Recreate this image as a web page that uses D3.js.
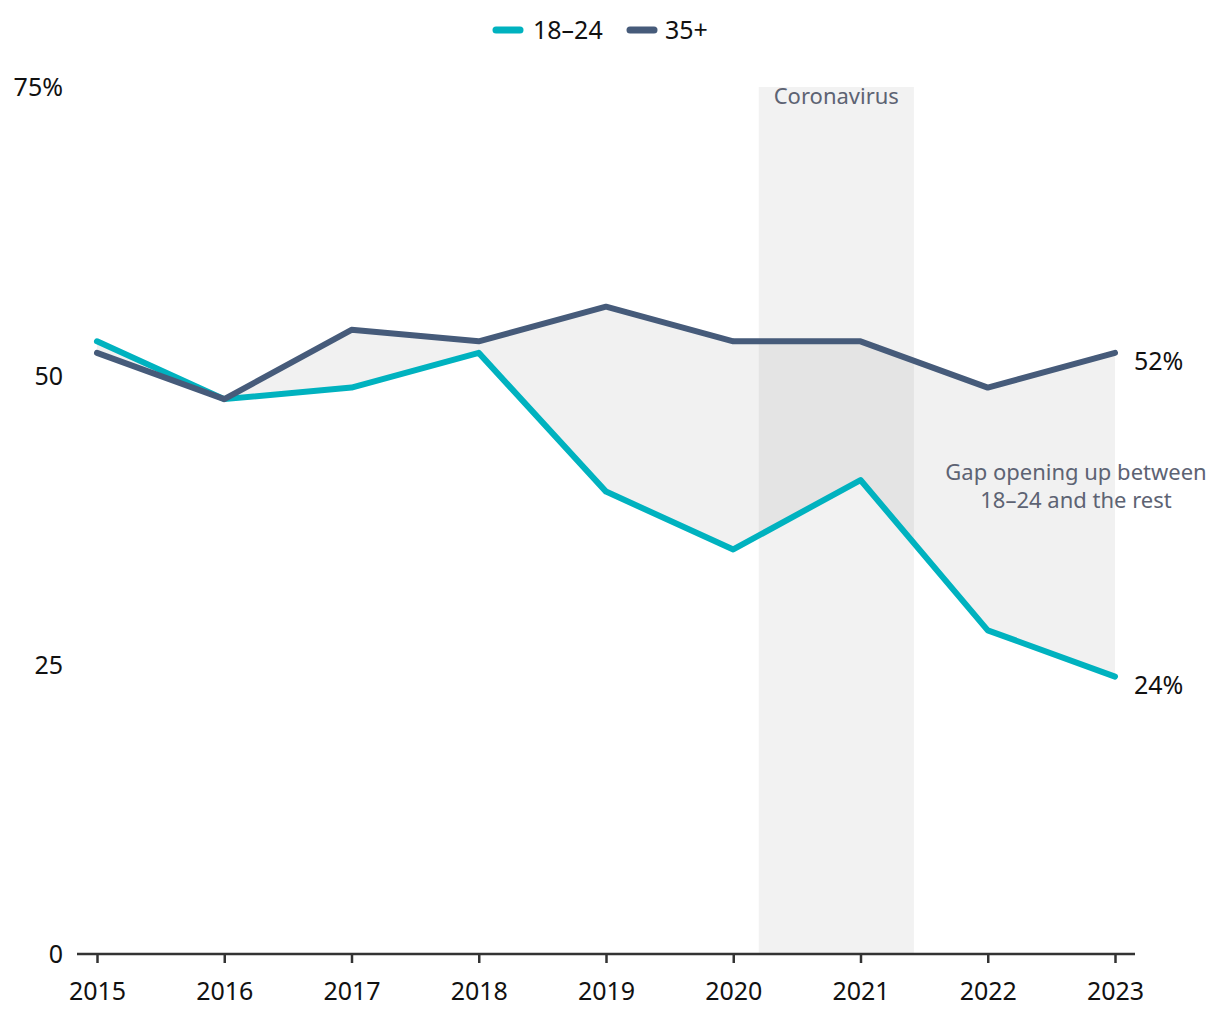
<!DOCTYPE html>
<html><head><meta charset="utf-8">
<script src="https://cdn.jsdelivr.net/npm/d3@7"></script>
<style>body{margin:0;background:#fff}svg{display:block;font-family:"Noto Sans",sans-serif}</style>
</head><body>
<svg id="c" width="1220" height="1020"></svg>
<script>
const years = [2015,2016,2017,2018,2019,2020,2021,2022,2023];
const young = [53,48,49,52,40,35,41,28,24];
const older = [52,48,54,53,56,53,53,49,52];
const seriesNames = ["18–24","35+"];
const seriesColors = ["#00b2bf","#465b7a"];
const yTicks = [0,25,50,75];
const covidStart = 2020.2, covidEnd = 2021.42;

const svg = d3.select("#c");
const x = d3.scaleLinear().domain([2015,2023]).range([97,1115]);
const y = d3.scaleLinear().domain([0,75]).range([954,87]);

// coronavirus band
svg.append("rect").attr("x",x(covidStart)).attr("y",y(75))
  .attr("width",x(covidEnd)-x(covidStart)).attr("height",y(0)-y(75))
  .attr("fill","#000").attr("fill-opacity",0.05);
svg.append("text").attr("x",(x(covidStart)+x(covidEnd))/2).attr("y",104)
  .attr("text-anchor","middle").attr("font-size",22).attr("fill","#5d6373").text("Coronavirus");

// gap area
const data = years.map((yr,i)=>({yr,a:young[i],b:older[i]}));
svg.append("path").datum(data)
  .attr("d",d3.area().x(d=>x(d.yr)).y0(d=>y(d.a)).y1(d=>y(d.b)))
  .attr("fill","#000").attr("fill-opacity",0.055);

// axes
const xAxis = svg.append("g").attr("transform","translate(0,954)")
  .call(d3.axisBottom(x).tickValues(years).tickFormat(d3.format("d")).tickSize(9).tickPadding(19));
xAxis.select(".domain").attr("d","M77,0H1135").attr("stroke","#333").attr("stroke-width",2.5);
xAxis.selectAll(".tick line").attr("stroke","#333").attr("stroke-width",2.5);
xAxis.selectAll(".tick text").attr("font-size",25).attr("fill","#111").attr("font-family","Noto Sans");

const yAxis = svg.append("g").attr("transform","translate(63,0)")
  .call(d3.axisLeft(y).tickValues(yTicks).tickSize(0).tickPadding(0)
    .tickFormat(d=>d===75?"75%":d));
yAxis.select(".domain").remove();
yAxis.selectAll(".tick text").attr("font-size",25).attr("fill","#111").attr("font-family","Noto Sans");

// lines
const line = d3.line().x((d,i)=>x(years[i])).y(d=>y(d));
[young,older].forEach((s,k)=>{
  svg.append("path").datum(s).attr("d",line).attr("fill","none")
    .attr("stroke",seriesColors[k]).attr("stroke-width",6)
    .attr("stroke-linecap","round").attr("stroke-linejoin","round");
});

// end labels
svg.append("text").attr("x",1134).attr("y",y(older[8])+17).attr("font-size",25).attr("fill","#111").text(older[8]+"%");
svg.append("text").attr("x",1134).attr("y",y(young[8])+17).attr("font-size",25).attr("fill","#111").text(young[8]+"%");

// gap annotation
const g = svg.append("text").attr("text-anchor","middle").attr("font-size",22).attr("fill","#5d6373");
g.append("tspan").attr("x",1076).attr("y",480).text("Gap opening up between");
g.append("tspan").attr("x",1076).attr("y",508).text("18–24 and the rest");

// legend
const leg = [{x:493,tx:533},{x:627,tx:665}];
seriesNames.forEach((n,k)=>{
  svg.append("line").attr("x1",leg[k].x+3).attr("x2",leg[k].x+27).attr("y1",30).attr("y2",30)
    .attr("stroke",seriesColors[k]).attr("stroke-width",7).attr("stroke-linecap","round");
  svg.append("text").attr("x",leg[k].tx).attr("y",39).attr("font-size",25).attr("fill","#111").text(n);
});
</script>
</body></html>
